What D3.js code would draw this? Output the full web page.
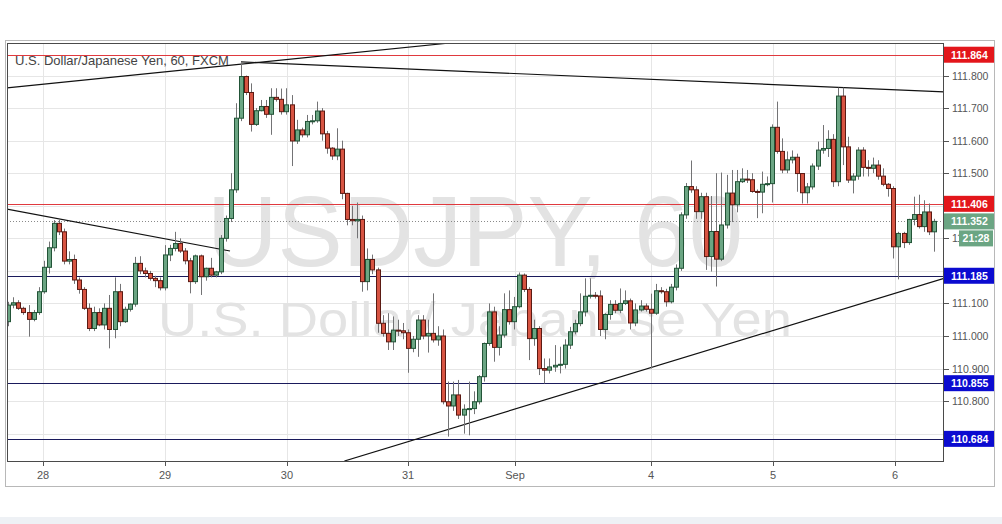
<!DOCTYPE html>
<html><head><meta charset="utf-8">
<script src="https://cdn.jsdelivr.net/npm/d3@7"></script>
<style>html,body{margin:0;padding:0;background:#fff;}svg{display:block;font-family:"Liberation Sans",Arial,sans-serif;}</style>
</head><body>
<svg id="c" width="1002" height="524"></svg>
<script>
// ---- data (hourly candles, USD/JPY 60) ----
const openV = [111.044,111.095,111.102,111.085,111.072,111.051,111.072,111.136,111.211,111.271,111.346,111.320,111.230,111.235,111.172,111.143,111.085,111.023,111.072,111.034,
111.085,111.020,111.136,111.044,111.082,111.098,111.223,111.200,111.192,111.177,111.170,111.148,111.249,111.269,111.284,111.261,111.231,111.167,111.246,111.182,
111.208,111.187,111.197,111.300,111.361,111.449,111.669,111.797,111.748,111.650,111.692,111.705,111.681,111.733,111.727,111.689,111.710,111.599,111.633,111.618,
111.659,111.661,111.691,111.621,111.577,111.553,111.574,111.438,111.358,111.354,111.358,111.167,111.235,111.203,111.039,111.008,110.982,111.018,111.016,111.010,
110.962,110.990,111.049,111.000,111.008,110.988,111.000,110.798,110.785,110.819,110.757,110.775,110.777,110.798,110.875,110.977,111.074,110.965,111.003,111.081,
111.044,111.090,111.187,111.143,110.992,111.023,110.900,110.895,110.905,110.910,110.913,110.972,111.013,111.038,111.074,111.122,111.125,111.123,111.020,111.066,
111.097,111.079,111.100,111.108,111.040,111.080,111.092,111.082,111.070,111.139,111.136,111.105,111.150,111.208,111.372,111.459,111.449,111.382,111.428,111.244,
111.321,111.236,111.341,111.439,111.403,111.474,111.482,111.480,111.444,111.442,111.466,111.468,111.641,111.567,111.510,111.541,111.549,111.499,111.440,111.458,
111.522,111.571,111.576,111.604,111.474,111.737,111.581,111.479,111.491,111.571,111.518,111.515,111.525,111.491,111.466,111.453,111.274,111.315,111.287,111.358,
111.373,111.336,111.381,111.320];
const highV = [111.105,111.119,111.110,111.090,111.095,111.080,111.150,111.231,111.290,111.356,111.358,111.330,111.260,111.250,111.180,111.150,111.100,111.090,111.085,111.100,
111.126,111.180,111.160,111.090,111.100,111.243,111.245,111.210,111.200,111.185,111.180,111.279,111.280,111.320,111.300,111.270,111.240,111.250,111.250,111.210,
111.240,111.200,111.310,111.370,111.500,111.715,111.840,111.800,111.776,111.700,111.725,111.725,111.761,111.761,111.760,111.761,111.740,111.664,111.640,111.679,
111.679,111.720,111.700,111.630,111.580,111.638,111.600,111.440,111.400,111.410,111.370,111.269,111.250,111.210,111.064,111.070,111.060,111.050,111.040,111.020,
111.000,111.064,111.064,111.050,111.131,111.030,111.020,110.860,110.860,110.865,110.790,110.860,110.830,110.880,110.980,111.100,111.090,111.030,111.131,111.140,
111.120,111.195,111.192,111.150,111.050,111.030,110.931,110.931,110.972,110.967,110.990,111.028,111.050,111.131,111.177,111.177,111.135,111.140,111.070,111.110,
111.110,111.146,111.140,111.115,111.100,111.110,111.100,111.130,111.160,111.150,111.145,111.160,111.220,111.380,111.470,111.539,111.460,111.440,111.440,111.430,
111.500,111.502,111.495,111.510,111.510,111.515,111.510,111.500,111.450,111.505,111.490,111.650,111.720,111.607,111.567,111.570,111.560,111.500,111.470,111.530,
111.597,111.648,111.632,111.620,111.763,111.763,111.612,111.500,111.580,111.580,111.540,111.548,111.540,111.515,111.470,111.460,111.320,111.320,111.360,111.428,
111.434,111.417,111.407,111.360];
const lowV = [111.030,111.085,111.080,111.065,110.998,111.045,111.065,111.130,111.192,111.260,111.310,111.220,111.220,111.160,111.130,111.080,111.015,111.015,111.030,111.020,
110.962,110.993,111.030,111.040,111.075,111.090,111.190,111.180,111.170,111.150,111.140,111.140,111.230,111.260,111.255,111.220,111.131,111.160,111.126,111.170,
111.180,111.180,111.190,111.290,111.350,111.440,111.660,111.740,111.628,111.645,111.690,111.670,111.618,111.720,111.680,111.680,111.522,111.590,111.610,111.610,
111.650,111.655,111.600,111.560,111.541,111.540,111.420,111.340,111.340,111.300,111.136,111.140,111.190,111.010,110.998,110.957,110.957,111.000,110.990,110.887,
110.950,110.936,110.990,110.949,110.980,110.970,110.790,110.691,110.770,110.745,110.700,110.695,110.760,110.790,110.860,110.970,110.921,110.940,110.995,111.035,
111.020,111.085,111.135,110.926,110.970,110.880,110.854,110.885,110.890,110.885,110.900,110.960,111.005,111.030,111.060,111.115,111.115,111.000,110.990,111.050,
111.070,111.070,111.095,111.020,111.030,111.075,111.075,110.900,111.065,111.130,111.090,111.100,111.140,111.200,111.360,111.440,111.360,111.360,111.203,111.198,
111.152,111.230,111.330,111.350,111.380,111.470,111.470,111.440,111.362,111.377,111.460,111.410,111.560,111.500,111.500,111.530,111.443,111.407,111.407,111.450,
111.510,111.560,111.550,111.458,111.460,111.525,111.470,111.438,111.480,111.490,111.490,111.500,111.480,111.460,111.428,111.238,111.174,111.270,111.280,111.340,
111.330,111.320,111.310,111.259];
const closeV = [111.095,111.102,111.085,111.072,111.051,111.072,111.136,111.211,111.271,111.346,111.320,111.230,111.235,111.172,111.143,111.085,111.023,111.072,111.034,111.085,
111.020,111.136,111.044,111.082,111.098,111.223,111.200,111.192,111.177,111.170,111.148,111.249,111.269,111.284,111.261,111.231,111.167,111.246,111.182,111.208,
111.187,111.197,111.300,111.361,111.449,111.669,111.797,111.748,111.650,111.692,111.705,111.681,111.733,111.727,111.689,111.710,111.599,111.633,111.618,111.659,
111.661,111.691,111.621,111.577,111.553,111.574,111.438,111.358,111.354,111.358,111.167,111.235,111.203,111.039,111.008,110.982,111.018,111.016,111.010,110.962,
110.990,111.049,111.000,111.008,110.988,111.000,110.798,110.785,110.819,110.757,110.775,110.777,110.798,110.875,110.977,111.074,110.965,111.003,111.081,111.044,
111.090,111.187,111.143,110.992,111.023,110.900,110.895,110.905,110.910,110.913,110.972,111.013,111.038,111.074,111.122,111.125,111.123,111.020,111.066,111.097,
111.079,111.100,111.108,111.040,111.080,111.092,111.082,111.070,111.139,111.136,111.105,111.150,111.208,111.372,111.459,111.449,111.382,111.428,111.244,111.321,
111.236,111.341,111.439,111.403,111.474,111.482,111.480,111.444,111.442,111.466,111.468,111.641,111.567,111.510,111.541,111.549,111.499,111.440,111.458,111.522,
111.571,111.576,111.604,111.474,111.737,111.581,111.479,111.491,111.571,111.518,111.515,111.525,111.491,111.466,111.453,111.274,111.315,111.287,111.358,111.373,
111.336,111.381,111.320,111.352];

// x-axis day labels and their candle positions
const dayLabels = ["28","29","30","31","Sep","4","5","6"];
const dayPos = [6.86,30.98,55.10,79.03,100.18,127.07,151.19,175.31];
// price grid ticks, and the tick labels that remain visible beside the level tags
const priceTicks = [110.7,110.8,110.9,111.0,111.1,111.2,111.3,111.4,111.5,111.6,111.7,111.8];
const priceLabels = [110.8,110.9,111.0,111.1,111.3,111.5,111.6,111.7,111.8];
// horizontal levels
const redLevels = [111.864,111.406];
const blueLevels = [111.185,110.855,110.684];
const lastPrice = 111.352;
const countdown = "21:28";
// trend lines: [startIndex, startPrice, endIndex, endPrice]
const trendLines = [
  [-0.26,111.762,87.33,111.900],
  [46.0,111.842,185.0,111.750],
  [-0.26,111.390,43.83,111.261],
  [66.45,110.616,185.0,111.177]
];
const title = "U.S. Dollar/Japanese Yen, 60, FXCM";
const wm1 = "USDJPY, 60", wm2 = "U.S. Dollar/ Japanese Yen";

// ---- drawing ----
const svg = d3.select("#c");
const L=7, R=944, T=43, B=461;
const x = d3.scaleLinear().domain([-0.26,185.0]).range([L,R]);
const y = d3.scaleLinear().domain([110.616,111.9]).range([B,T]);
const candles = openV.map((o,i)=>({i,o,h:highV[i],l:lowV[i],c:closeV[i]}));

svg.append("rect").attr("width",1002).attr("height",524).attr("fill","#fff");
svg.append("rect").attr("x",0).attr("y",517).attr("width",1002).attr("height",7).attr("fill","#eef1f5");
svg.append("rect").attr("x",5.5).attr("y",40.5).attr("width",989).attr("height",446).attr("fill","#fff").attr("stroke","#b8b8b8");

const defs = svg.append("defs");
defs.append("clipPath").attr("id","pc").append("rect").attr("x",L).attr("y",T).attr("width",R-L).attr("height",B-T);
const g = svg.append("g").attr("clip-path","url(#pc)");

// grid
g.selectAll(".hg").data(priceTicks.concat([111.9])).join("line")
  .attr("x1",L).attr("x2",R).attr("y1",d=>Math.round(y(d))+0.5).attr("y2",d=>Math.round(y(d))+0.5)
  .attr("stroke","#e6e6e6");
g.selectAll(".vg").data(dayPos).join("line")
  .attr("x1",d=>Math.round(x(d))+0.5).attr("x2",d=>Math.round(x(d))+0.5).attr("y1",T).attr("y2",B)
  .attr("stroke","#e6e6e6");

// watermark
g.append("text").attr("x",475).attr("y",266).attr("text-anchor","middle").attr("font-size",100)
  .attr("textLength",536).attr("lengthAdjust","spacingAndGlyphs").attr("fill","#e3e3e3").text(wm1);
g.append("text").attr("x",475).attr("y",336).attr("text-anchor","middle").attr("font-size",48)
  .attr("textLength",634).attr("lengthAdjust","spacingAndGlyphs").attr("fill","#e3e3e3").text(wm2);

// levels
g.selectAll(".rl").data(redLevels).join("line")
  .attr("x1",L).attr("x2",R).attr("y1",d=>Math.round(y(d))+0.5).attr("y2",d=>Math.round(y(d))+0.5)
  .attr("stroke","#e0393e").attr("stroke-width",1.2);
g.selectAll(".bl").data(blueLevels).join("line")
  .attr("x1",L).attr("x2",R).attr("y1",d=>Math.round(y(d))+0.5).attr("y2",d=>Math.round(y(d))+0.5)
  .attr("stroke","#1a1a5c").attr("stroke-width",1.2);
g.append("line").attr("x1",L).attr("x2",R).attr("y1",Math.round(y(lastPrice))+0.5).attr("y2",Math.round(y(lastPrice))+0.5)
  .attr("stroke","#8a8a8a").attr("stroke-dasharray","1,2");

// trend lines
g.selectAll(".tl").data(trendLines).join("line")
  .attr("x1",d=>x(d[0])).attr("y1",d=>y(d[1])).attr("x2",d=>x(d[2])).attr("y2",d=>y(d[3]))
  .attr("stroke","#111").attr("stroke-width",1.2);

// candles
const bw = 4;
const cg = g.selectAll(".cd").data(candles).join("g");
cg.append("line").attr("x1",d=>Math.round(x(d.i))+0.5).attr("x2",d=>Math.round(x(d.i))+0.5)
  .attr("y1",d=>y(d.h)).attr("y2",d=>y(d.l)).attr("stroke","#737375");
cg.append("rect").attr("x",d=>Math.round(x(d.i))-bw/2+0.5).attr("width",bw)
  .attr("y",d=>y(Math.max(d.o,d.c))).attr("height",d=>Math.max(1,Math.abs(y(d.o)-y(d.c))))
  .attr("fill",d=>d.c>=d.o?"#6ba583":"#d75442")
  .attr("stroke",d=>d.c>=d.o?"#225437":"#5b1a13").attr("stroke-width",1);

// plot border
svg.append("rect").attr("x",L+0.5).attr("y",T+0.5).attr("width",R-L-1).attr("height",B-T).attr("fill","none").attr("stroke","#4a4a4a");

// title
svg.append("text").attr("x",15).attr("y",65).attr("font-size",13).attr("fill","#444").attr("font-weight",500).text(title);

// right axis
const ra = svg.append("g");
ra.selectAll("line").data(priceTicks).join("line")
  .attr("x1",R).attr("x2",R+5).attr("y1",d=>Math.round(y(d))+0.5).attr("y2",d=>Math.round(y(d))+0.5).attr("stroke","#555");
defs.append("clipPath").attr("id","ac").append("rect").attr("x",R).attr("y",T).attr("width",15).attr("height",B-T);
ra.selectAll("text").data(priceLabels).join("text")
  .attr("x",952).attr("y",d=>y(d)+4).attr("font-size",10.5).attr("fill","#555")
  .attr("clip-path",d=>d===111.3?"url(#ac)":null)
  .text(d=>d.toFixed(3));

// bottom axis
const ba = svg.append("g");
ba.selectAll("line").data(dayPos).join("line")
  .attr("x1",d=>Math.round(x(d))+0.5).attr("x2",d=>Math.round(x(d))+0.5).attr("y1",B).attr("y2",B+5).attr("stroke","#555");
ba.selectAll("text").data(dayPos).join("text")
  .attr("x",d=>x(d)).attr("y",479).attr("text-anchor","middle").attr("font-size",11).attr("fill","#555")
  .text((d,i)=>dayLabels[i]);

// price tags
function tag(v, color){
  const yy = y(v);
  svg.append("rect").attr("x",R).attr("y",yy-8).attr("width",50).attr("height",16).attr("fill",color);
  svg.append("text").attr("x",951).attr("y",yy+4).attr("font-size",10.5).attr("font-weight","bold").attr("fill","#fff").text(v.toFixed(3));
}
redLevels.forEach(v=>tag(v,"#e3161b"));
blueLevels.forEach(v=>tag(v,"#0b0bd0"));
tag(lastPrice,"#6ba583");
svg.append("rect").attr("x",959).attr("y",y(lastPrice)+9).attr("width",34).attr("height",16).attr("fill","#6ba583");
svg.append("text").attr("x",976).attr("y",y(lastPrice)+21).attr("text-anchor","middle").attr("font-size",10.5).attr("font-weight","bold").attr("fill","#fff").text(countdown);
</script>
</body></html>
